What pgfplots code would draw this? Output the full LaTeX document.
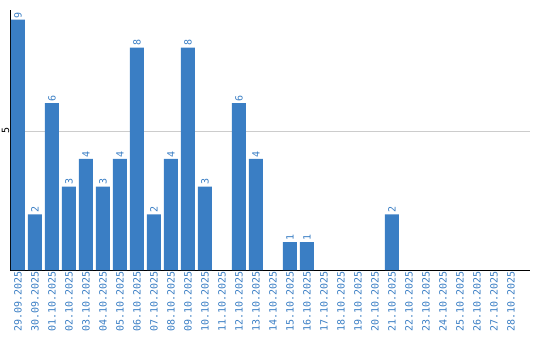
\documentclass[border=0pt]{standalone}
\usepackage{fontspec}
\setmonofont{DejaVu Sans Mono}
\usepackage{pgfplots}
\pgfplotsset{compat=1.18}
\definecolor{barblue}{RGB}{58,126,196}
\begin{document}
\begin{tikzpicture}[x=1pt,y=1pt]
\begin{axis}[
  scale only axis,
  width=519.5pt, height=260pt,
  xmin=-0.44, xmax=30.12,
  ymin=0, ymax=9.35,
  /pgf/number format/assume math mode=true,
  axis x line*=bottom, axis y line*=left,
  axis line style={-, black, line width=1pt},
  ytick={5},
  ymajorgrids, grid style={gray!40, line width=0.7pt},
  xtick={0,...,29},
  xticklabels={29.09.2025,30.09.2025,01.10.2025,02.10.2025,03.10.2025,04.10.2025,05.10.2025,06.10.2025,07.10.2025,08.10.2025,09.10.2025,10.10.2025,11.10.2025,12.10.2025,13.10.2025,14.10.2025,15.10.2025,16.10.2025,17.10.2025,18.10.2025,19.10.2025,20.10.2025,21.10.2025,22.10.2025,23.10.2025,24.10.2025,25.10.2025,26.10.2025,27.10.2025,28.10.2025},
  x tick label style={rotate=90, anchor=east, font=\ttfamily\fontsize{10}{11}\selectfont, text=barblue, inner sep=1pt},
  y tick label style={rotate=90, anchor=south, font=\ttfamily\fontsize{10}{11}\selectfont, inner sep=1pt},
  major tick length=0pt,
  nodes near coords,
  nodes near coords style={rotate=90, anchor=west, font=\ttfamily\fontsize{10}{11}\selectfont, text=barblue, inner sep=1.5pt},
]
\addplot[ybar, bar width=14pt, fill=barblue, draw=none] coordinates {
(0,9) (1,2) (2,6) (3,3) (4,4) (5,3) (6,4) (7,8) (8,2) (9,4) (10,8) (11,3)
(13,6) (14,4) (16,1) (17,1) (22,2)
};
\end{axis}
\pgfresetboundingbox
\path[use as bounding box] (-10.5pt,-70pt) rectangle (529.5pt,270pt);
\end{tikzpicture}
\end{document}
